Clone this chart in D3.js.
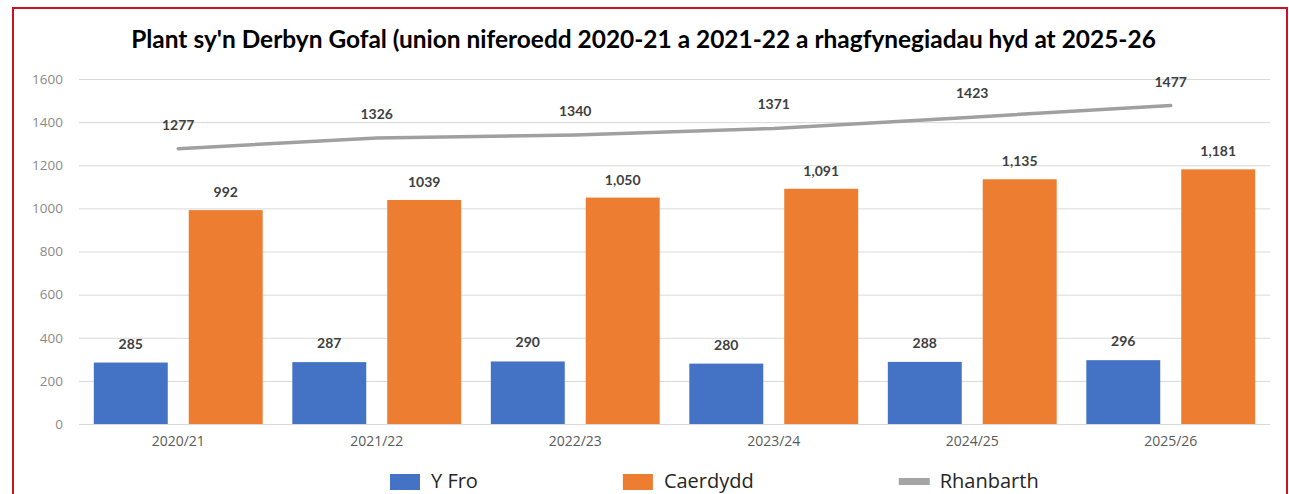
<!DOCTYPE html>
<html>
<head>
<meta charset="utf-8">
<script src="https://cdn.jsdelivr.net/npm/d3@7"></script>
<style>
  body { margin: 0; background: #fff; }
  svg { display: block; }
  .tick text { font-family: "Open Sans", sans-serif; }
</style>
</head>
<body>
<div id="chart"></div>
<script>
// chart data
const categories = ['2020/21', '2021/22', '2022/23', '2023/24', '2024/25', '2025/26'];
const yFro = [285, 287, 290, 280, 288, 296];
const caerdydd = [992, 1039, 1050, 1091, 1135, 1181];
const caerdyddLabels = ['992', '1039', '1,050', '1,091', '1,135', '1,181'];
const rhanbarth = [1277, 1326, 1340, 1371, 1423, 1477];
const yTicks = [0, 200, 400, 600, 800, 1000, 1200, 1400, 1600];
const seriesNames = ['Y Fro', 'Caerdydd', 'Rhanbarth'];
const titleText = "Plant sy'n Derbyn Gofal (union niferoedd 2020-21 a 2021-22 a rhagfynegiadau hyd at 2025-26";

const width = 1289, height = 494;
const colors = {blue: '#4472C4', orange: '#ED7D31', grey: '#A5A5A5'};

const svg = d3.select('#chart').append('svg')
    .attr('width', width)
    .attr('height', height);

// red frame
svg.append('rect')
    .attr('x', 13).attr('y', 8)
    .attr('width', 1274).attr('height', 500)
    .attr('fill', 'none')
    .attr('stroke', '#cc1122')
    .attr('stroke-width', 2);

// title, fitted to the width it has in the reference
const title = svg.append('text')
    .attr('x', 643.5).attr('y', 48)
    .attr('text-anchor', 'middle')
    .style('font-family', 'Lato, sans-serif')
    .style('font-weight', 700)
    .style('font-size', '22px')
    .attr('fill', '#000')
    .text(titleText);
let tw = title.node().getComputedTextLength();
title.style('font-size', (22 * 1025 / tw) + 'px');

// scales
const x0 = d3.scaleBand(categories, [79, 1270]);
const x1 = d3.scaleBand(['yfro', 'caer'], [0, x0.bandwidth()])
    .paddingInner(0.221).paddingOuter(0.156);
const y = d3.scaleLinear([0, 1600], [424, 79]);

// gridlines
svg.append('g')
    .attr('transform', 'translate(79,0)')
    .call(d3.axisLeft(y).tickValues(yTicks).tickSize(-(1270 - 79)).tickFormat(''))
    .call(g => g.select('.domain').remove())
    .call(g => g.selectAll('line').attr('stroke', '#d9d9d9').attr('stroke-width', 1));

// y axis labels
svg.append('g')
    .attr('transform', 'translate(79,0)')
    .call(d3.axisLeft(y).tickValues(yTicks).tickSize(0).tickPadding(16).tickFormat(d3.format('d')))
    .call(g => g.select('.domain').remove())
    .call(g => g.selectAll('text').attr('fill', '#8a8a8a').style('font-size', '13.5px'));

// x axis labels
svg.append('g')
    .attr('transform', 'translate(0,424)')
    .call(d3.axisBottom(x0).tickSize(0).tickPadding(12))
    .call(g => g.select('.domain').remove())
    .call(g => g.selectAll('text').attr('fill', '#5a5a5a').style('font-size', '14px'));

// bars
const groups = svg.append('g').selectAll('g')
    .data(categories)
    .join('g')
    .attr('transform', d => `translate(${x0(d)},0)`);

groups.append('rect')
    .attr('x', x1('yfro'))
    .attr('y', (d, i) => y(yFro[i]))
    .attr('width', x1.bandwidth())
    .attr('height', (d, i) => y(0) - y(yFro[i]))
    .attr('fill', colors.blue);

groups.append('rect')
    .attr('x', x1('caer'))
    .attr('y', (d, i) => y(caerdydd[i]))
    .attr('width', x1.bandwidth())
    .attr('height', (d, i) => y(0) - y(caerdydd[i]))
    .attr('fill', colors.orange);

const labelStyle = sel => sel
    .attr('text-anchor', 'middle')
    .style('font-family', 'Lato, sans-serif')
    .style('font-weight', 700)
    .style('font-size', '14px')
    .attr('fill', '#404040');

groups.append('text')
    .attr('x', x1('yfro') + x1.bandwidth() / 2)
    .attr('y', (d, i) => y(yFro[i]) - 14)
    .text((d, i) => yFro[i])
    .call(labelStyle);

groups.append('text')
    .attr('x', x1('caer') + x1.bandwidth() / 2)
    .attr('y', (d, i) => y(caerdydd[i]) - 13)
    .text((d, i) => caerdyddLabels[i])
    .call(labelStyle);

// regional line
const cx = d => x0(d) + x0.bandwidth() / 2;
const lineGen = d3.line()
    .x((d, i) => cx(categories[i]))
    .y(d => y(d));

svg.append('path')
    .datum(rhanbarth)
    .attr('d', lineGen)
    .attr('fill', 'none')
    .attr('stroke', '#a0a0a0')
    .attr('stroke-width', 3.5)
    .attr('stroke-linecap', 'round');

svg.append('g').selectAll('text')
    .data(rhanbarth)
    .join('text')
    .attr('x', (d, i) => cx(categories[i]))
    .attr('y', d => y(d) - 19)
    .text(d => d)
    .call(labelStyle);

// legend
const legend = svg.append('g');
let lx = 390;
seriesNames.forEach((name, i) => {
    if (i < 2) {
        legend.append('rect')
            .attr('x', lx).attr('y', 474)
            .attr('width', 30).attr('height', 16)
            .attr('fill', i === 0 ? colors.blue : colors.orange);
    } else {
        legend.append('rect')
            .attr('x', lx).attr('y', 478)
            .attr('width', 31).attr('height', 7)
            .attr('fill', colors.grey);
    }
    const t = legend.append('text')
        .attr('x', lx + 41).attr('y', 488)
        .style('font-family', '"Open Sans", sans-serif')
        .style('font-size', '20px')
        .attr('fill', '#262626')
        .text(name);
    lx = lx + 41 + t.node().getComputedTextLength() + 145;
});
</script>
</body>
</html>
